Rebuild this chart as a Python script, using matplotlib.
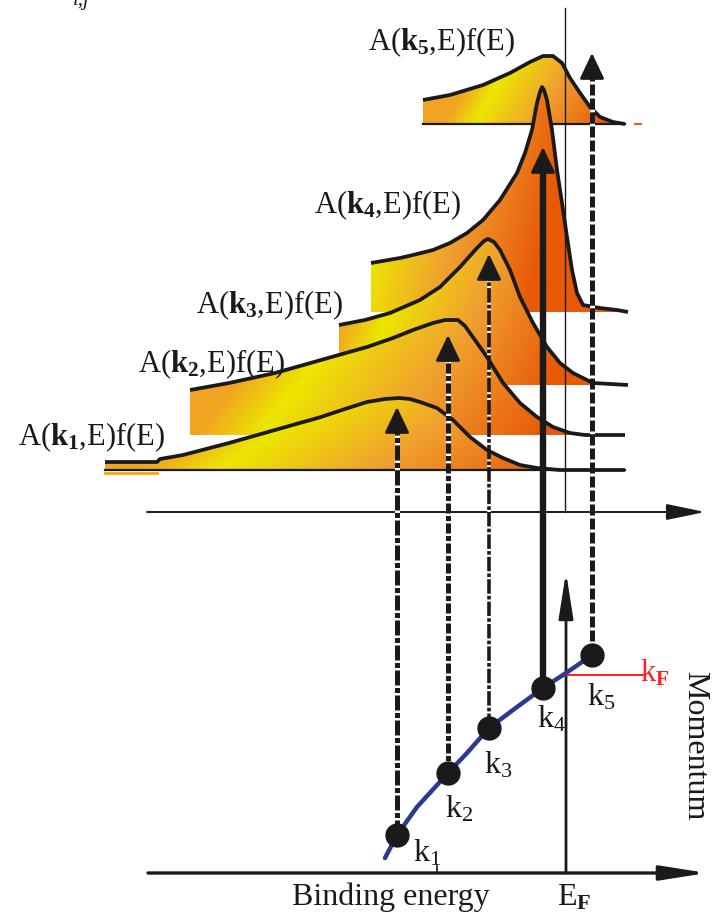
import numpy as np
import matplotlib.pyplot as plt
from matplotlib.colors import to_rgb
from matplotlib.patches import Polygon

plt.rcParams['font.family'] = ['Liberation Serif', 'DejaVu Serif']
plt.rcParams['mathtext.fontset'] = 'custom'
plt.rcParams['mathtext.rm'] = 'Liberation Serif'
plt.rcParams['mathtext.it'] = 'Liberation Serif:italic'
plt.rcParams['mathtext.bf'] = 'Liberation Serif:bold'

# spectra A(k,E)f(E) (pixel units, y down)
spec_labels = [r'A($\mathbf{k_1}$,E)f(E)', r'A($\mathbf{k_2}$,E)f(E)', r'A($\mathbf{k_3}$,E)f(E)',
               r'A($\mathbf{k_4}$,E)f(E)', r'A($\mathbf{k_5}$,E)f(E)']
spec1_x = [105, 157, 160, 183, 229, 275, 321, 345, 367, 385, 399, 410, 420, 437, 453, 470, 487, 503, 520, 537, 560, 625]
spec1_y = [462, 462, 459, 455, 443, 430, 417, 409, 402, 399, 398, 399, 402, 408, 420, 437, 450, 458, 465, 468, 470, 470]
spec2_x = [190, 229, 275, 321, 367, 393, 413, 433, 445, 458, 465, 470, 487, 503, 520, 537, 553, 570, 585, 625]
spec2_y = [390, 383, 373, 360, 347, 338, 330, 323, 320, 320, 326, 333, 357, 383, 403, 417, 427, 433, 435, 435]
spec3_x = [339, 365, 390, 420, 440, 460, 477, 484, 488, 494, 500, 510, 520, 533, 547, 560, 573, 593, 628]
spec3_y = [325, 320, 313, 300, 287, 267, 248, 241, 239, 242, 250, 270, 297, 323, 347, 363, 373, 383, 385]
spec4_x = [371, 400, 413, 433, 450, 467, 483, 500, 517, 525, 532, 537, 540, 542, 544, 547, 552, 557, 562,
           567, 572, 577, 583, 600, 617, 628]
spec4_y = [263, 258, 255, 250, 243, 233, 220, 200, 173, 153, 130, 103, 92, 87, 90, 100, 130, 170, 203,
           237, 270, 293, 305, 308, 310, 312]
spec5_x = [423, 450, 483, 510, 530, 543, 553, 562, 570, 580, 590, 600, 613, 625]
spec5_y = [100, 95, 85, 73, 62, 56, 56, 63, 78, 93, 107, 117, 122, 124]
spec_x = [spec1_x, spec2_x, spec3_x, spec4_x, spec5_x]
spec_y = [spec1_y, spec2_y, spec3_y, spec4_y, spec5_y]
spec_base = [470, 435, 385, 312, 124]
label_pos = [(18, 445), (138, 372), (196, 313), (314, 213), (368, 50)]

# dispersion E(k) and the sampled momenta
disp_x = [385, 397, 417, 448, 467, 489, 517, 543, 566, 585, 593]
disp_y = [858, 835, 807, 773, 753, 728, 707, 688, 673, 660, 655]
k_x = [397, 448, 489, 543, 592]
k_y = [835, 773, 728, 688, 655]
k_tip = [407, 335, 254, 147, 53]
k_names = [r'k$_1$', r'k$_2$', r'k$_3$', r'k$_4$', r'k$_5$']
k_label_pos = [(413, 862), (445, 818), (484, 773), (537, 728), (587, 705)]
kF_y = 675
EF_x = 566

# styles
yellow_at = [0.22, 0.16, 0.07, -0.05, 0.25]
grad_cols = [to_rgb(c) for c in ['#f0a422', '#ede600', '#f0a030', '#e85a08']]
k_ls = [(0, (3, 0.5, 1, 0.5)), (0, (2, 0.5, 1, 0.5)), (0, (4, 0.6, 1, 0.6)), '-', (0, (2.2, 0.6))]
k_lw = [3.6, 3.6, 2.6, 4.6, 3.6]
ink = '#1a1a1a'

fig = plt.figure(figsize=(7.15, 9.19), dpi=100)
ax = fig.add_axes([0, 0, 1, 1])

for i in reversed(range(5)):
    xs, ys, base = spec_x[i], spec_y[i], spec_base[i]
    z = 2 + (4 - i)
    verts = [(xs[0], base)] + list(zip(xs, ys)) + [(xs[-1], base)]
    patch = Polygon(verts, closed=True, facecolor='none', edgecolor='none')
    ax.add_patch(patch)
    yt = yellow_at[i]
    stops = [yt - 0.15, yt, yt + 0.3, yt + 0.65]
    u = np.linspace(0, 1, 300)[None, :]
    v = np.linspace(1, 0, 120)[:, None]
    t = u - 0.2 * v
    rgb = np.dstack([np.interp(t, stops, [c[ch] for c in grad_cols]) for ch in range(3)])
    top = min(ys)
    im = ax.imshow(rgb, extent=(xs[0], xs[-1], base, top), aspect='auto',
                   interpolation='bilinear', zorder=z)
    im.set_clip_path(patch)
    ax.plot(xs, ys, color=ink, lw=2.7, zorder=z + 0.5, solid_capstyle='butt', solid_joinstyle='round')
    if i in (0, 4):
        ax.plot([xs[0], xs[-1]], [base, base], color=ink, lw=1.6, zorder=z + 0.4)
    ax.text(label_pos[i][0], label_pos[i][1], spec_labels[i], fontsize=22, ha='left', va='baseline',
            color=ink, zorder=10)

# little extras around the spectra
ax.plot([spec1_x[0], spec1_x[1]], [spec_base[0] + 3, spec_base[0] + 3], color='#f5a800', lw=2, zorder=2)
ax.plot([635, 641], [spec_base[4], spec_base[4]], color='#ff3a10', lw=1.3, zorder=2)

# E_F reference line in the spectra panel
ax.plot([565, 565], [8, 512], color=ink, lw=1.0, zorder=12)

# energy axis of the spectra panel
ax.annotate('', xy=(705, 512), xytext=(147, 512),
            arrowprops=dict(arrowstyle='-|>,head_length=1.2,head_width=0.25', mutation_scale=20,
                            lw=1.4, color=ink, shrinkA=0, shrinkB=0), zorder=11)

# vertical arrows from the dispersion points to the peaks
for i in range(5):
    ax.plot([k_x[i], k_x[i]], [k_y[i], k_tip[i] + 20], color=ink, lw=k_lw[i], linestyle=k_ls[i],
            gapcolor='white', zorder=13, solid_capstyle='butt', dash_capstyle='butt')
    ax.annotate('', xy=(k_x[i], k_tip[i]), xytext=(k_x[i], k_tip[i] + 26),
                arrowprops=dict(arrowstyle='-|>,head_length=0.8,head_width=0.38', mutation_scale=20,
                                lw=2, color=ink, shrinkA=0, shrinkB=0), zorder=14)

# bottom panel axes
ax.annotate('', xy=(707, 873), xytext=(148, 873),
            arrowprops=dict(arrowstyle='-|>,head_length=1.4,head_width=0.22', mutation_scale=20,
                            lw=2.4, color=ink, shrinkA=0, shrinkB=0), zorder=11)
ax.annotate('', xy=(EF_x, 572), xytext=(EF_x, 873),
            arrowprops=dict(arrowstyle='-|>,head_length=1.4,head_width=0.22', mutation_scale=20,
                            lw=2.0, color=ink, shrinkA=0, shrinkB=0), zorder=11)
ax.plot([437, 437], [866, 873], color=ink, lw=1.2, zorder=11)

# k_F marker
ax.plot([EF_x, 643], [kF_y, kF_y], color='#ff2020', lw=1.4, zorder=11)
ax.text(640, 682, r'k$_\mathbf{F}$', color='#ff2020', fontsize=22, ha='left', va='baseline', zorder=15)

# dispersion and points
ax.plot(disp_x, disp_y, color='#2b3a8e', lw=3.2, zorder=15, solid_capstyle='round')
ax.plot(k_x, k_y, 'o', color=ink, ms=16.5, zorder=16)
for i in range(5):
    ax.text(k_label_pos[i][0], k_label_pos[i][1], k_names[i], fontsize=23, ha='left', va='baseline',
            color=ink, zorder=15)

ax.text(292, 905, 'Binding energy', fontsize=23, ha='left', va='baseline', color=ink)
ax.text(557, 905, r'E$_\mathbf{F}$', fontsize=23, ha='left', va='baseline', color=ink)
ax.text(695, 746, 'Momentum', fontsize=23, rotation=-90, ha='center', va='center', color=ink)
ax.text(73, 5, 'i,j', fontsize=15, style='italic', ha='left', va='baseline', color=ink)

ax.set_xlim(0, 715)
ax.set_ylim(919, 0)
ax.axis('off')
fig.savefig('out.png', dpi=100, facecolor='white')
